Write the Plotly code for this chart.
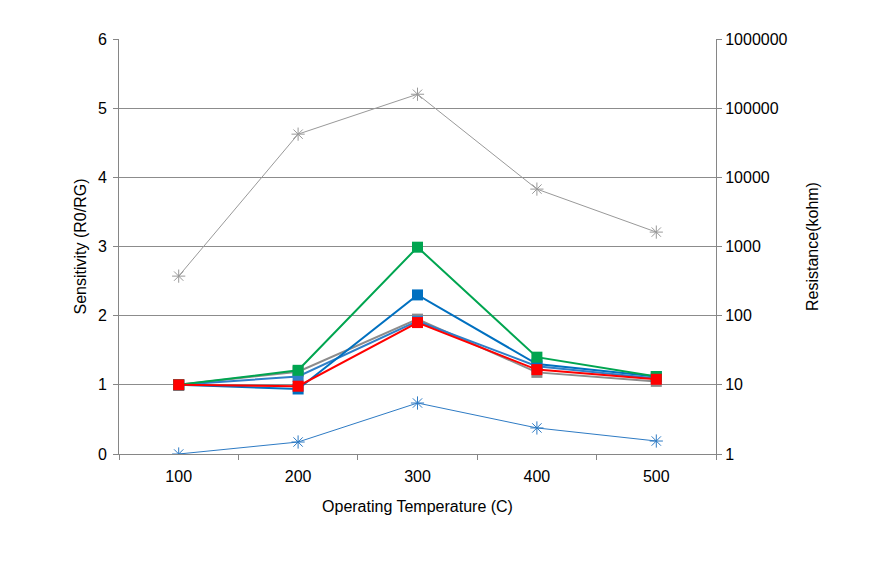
import plotly.graph_objects as go

temps = ["100", "200", "300", "400", "500"]

sens_green = [1.0, 1.21, 2.99, 1.40, 1.12]
sens_blue = [1.0, 0.94, 2.30, 1.30, 1.12]
sens_blue2 = [1.0, 1.12, 1.92, 1.27, 1.09]
sens_gray = [1.0, 1.19, 1.95, 1.18, 1.05]
sens_red = [1.0, 0.98, 1.90, 1.22, 1.08]

res_gray = [373, 42100, 159000, 6760, 1615]
res_blue = [1.0, 1.49, 5.46, 2.38, 1.54]

left_ticks = [0, 1, 2, 3, 4, 5, 6]
right_ticks = [1, 10, 100, 1000, 10000, 100000, 1000000]

FONT = "Liberation Sans, Arial, sans-serif"
AX = "#868686"
FS = 16

fig = go.Figure()

fig.add_trace(go.Scatter(x=temps, y=res_gray, yaxis="y2", mode="lines+markers",
                         line=dict(color="#999999", width=1),
                         marker=dict(symbol="asterisk-open", size=11, line=dict(color="#999999", width=1))))
fig.add_trace(go.Scatter(x=temps, y=res_blue, yaxis="y2", mode="lines+markers",
                         line=dict(color="#2E7BC4", width=1),
                         marker=dict(symbol="asterisk-open", size=11, line=dict(color="#2E7BC4", width=1))))

for vals, col in [(sens_gray, "#8C8C8C"), (sens_blue2, "#2F7FC8"), (sens_blue, "#0070C0"),
                  (sens_green, "#00A550"), (sens_red, "#FF0000")]:
    fig.add_trace(go.Scatter(x=temps, y=vals, yaxis="y", mode="lines+markers",
                             line=dict(color=col, width=2),
                             marker=dict(symbol="square", size=11, color=col)))

fig.update_layout(
    width=855, height=553,
    margin=dict(l=111, r=147, t=31, b=107),
    paper_bgcolor="white", plot_bgcolor="white",
    showlegend=False,
    font=dict(family=FONT, size=FS, color="#000000"),
    xaxis=dict(type="category", range=[-0.5, 4.5], tickson="boundaries",
               ticks="outside", ticklen=5, tickcolor=AX, ticklabelstandoff=8,
               showline=True, linecolor=AX, linewidth=1, showgrid=False,
               title=dict(text="Operating Temperature (C)", font=dict(size=FS), standoff=16),
               tickfont=dict(size=FS)),
    yaxis=dict(range=[0, 6], tickvals=left_ticks, ticks="outside", ticklen=5, tickcolor=AX,
               ticklabelstandoff=3,
               showline=True, linecolor=AX, linewidth=1,
               showgrid=True, gridcolor="#8C8C8C", gridwidth=1,
               zeroline=False,
               title=dict(text="Sensitivity (R0/RG)", font=dict(size=FS), standoff=7),
               tickfont=dict(size=FS)),
    yaxis2=dict(type="log", range=[0, 6], overlaying="y", side="right",
                tickvals=right_ticks, ticktext=[str(v) for v in right_ticks],
                ticks="outside", ticklen=5, tickcolor=AX,
                showline=True, linecolor=AX, linewidth=1, showgrid=False, zeroline=False,
                title=dict(text="Resistance(kohm)", font=dict(size=FS), standoff=20),
                tickfont=dict(size=FS)),
)

fig.write_html("out.html")
